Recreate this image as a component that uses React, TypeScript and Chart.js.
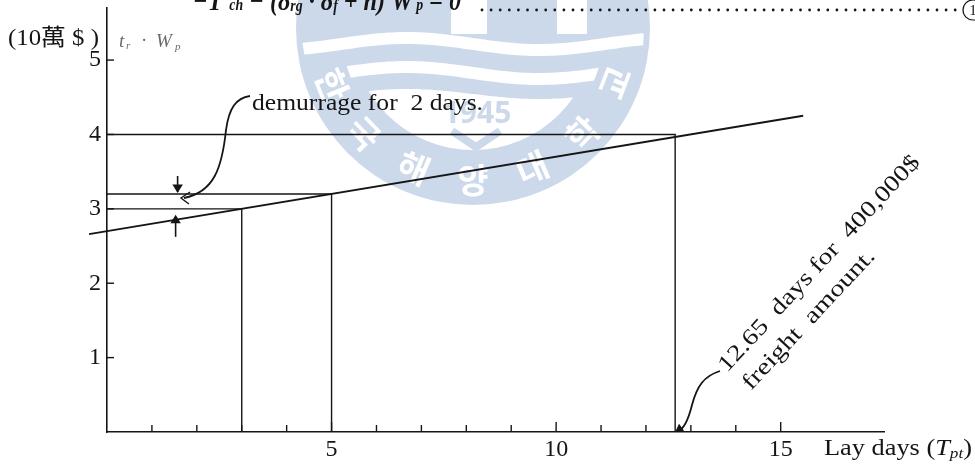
import React, { useEffect, useRef } from "react";
import { Chart, registerables } from "chart.js";
Chart.register(...registerables);

// ---- data ----
const xLabelDays = [5, 10, 15];
const xTickDays = [1, 2, 3, 4, 5, 6, 7, 8, 9, 10, 11, 12, 13, 14, 15];
const yTickValues = [1, 2, 3, 4, 5];
const costDays = [-0.4, 15.5];
const costValues = [2.66, 4.25];
const guideDays = [3, 5, 12.65];
const guideValues = [3.0, 3.2, 4.0];

const SERIF = '"Liberation Serif", "DejaVu Serif", "Noto Sans CJK TC", serif';
const INK = "#151515";

function stretchText(ctx: CanvasRenderingContext2D, text: string, x0: number, y0: number, x1: number, y1: number, font: string) {
  ctx.save();
  ctx.font = font;
  const w = ctx.measureText(text).width;
  const len = Math.hypot(x1 - x0, y1 - y0);
  ctx.translate(x0, y0);
  ctx.rotate(Math.atan2(y1 - y0, x1 - x0));
  ctx.scale(len / w, 1);
  ctx.textAlign = "left";
  ctx.textBaseline = "alphabetic";
  ctx.fillText(text, 0, 0);
  ctx.restore();
}

type Run = { t: string; f: string; dy?: number };
function drawRuns(ctx: CanvasRenderingContext2D, runs: Run[], x0: number, y0: number, x1: number) {
  ctx.save();
  let total = 0;
  for (const r of runs) { ctx.font = r.f; total += ctx.measureText(r.t).width; }
  ctx.translate(x0, y0);
  ctx.scale((x1 - x0) / total, 1);
  let x = 0;
  ctx.textBaseline = "alphabetic";
  ctx.textAlign = "left";
  for (const r of runs) {
    ctx.font = r.f;
    ctx.fillText(r.t, x, r.dy || 0);
    x += ctx.measureText(r.t).width;
  }
  ctx.restore();
}

function drawWatermark(ctx: CanvasRenderingContext2D) {
  const cx = 473, cy = 28, R = 177, rIn = 122;
  const blue = "rgb(204,217,235)";
  ctx.save();
  ctx.fillStyle = blue;
  ctx.beginPath();
  ctx.arc(cx, cy, R, 0, Math.PI * 2);
  ctx.fill();

  // white inner lower part
  ctx.save();
  ctx.beginPath();
  ctx.arc(cx, cy, rIn, 0, Math.PI * 2);
  ctx.clip();
  ctx.fillStyle = "#ffffff";
  ctx.beginPath();
  ctx.moveTo(cx - R, 95);
  for (let x = cx - R; x <= cx + R; x += 4) ctx.lineTo(x, 94 + 5 * Math.sin((x - cx) / 42));
  ctx.lineTo(cx + R, cy + R);
  ctx.lineTo(cx - R, cy + R);
  ctx.closePath();
  ctx.fill();
  ctx.restore();

  // waves and top gaps
  ctx.strokeStyle = "#ffffff";
  ctx.lineWidth = 12;
  const wave = (base: number, amp: number, clipR: number) => {
    ctx.save();
    ctx.beginPath();
    ctx.arc(cx, cy, clipR, 0, Math.PI * 2);
    ctx.clip();
    ctx.beginPath();
    ctx.moveTo(cx - R, base);
    for (let x = cx - R; x <= cx + R; x += 4) ctx.lineTo(x, base + amp * Math.sin((x - cx) / 42));
    ctx.stroke();
    ctx.restore();
  };
  wave(44, 6, R - 6);
  wave(73, 6, 132);
  ctx.save();
  ctx.beginPath();
  ctx.arc(cx, cy, R, 0, Math.PI * 2);
  ctx.clip();
  ctx.fillStyle = "#ffffff";
  ctx.fillRect(451, 0, 36, 34);
  ctx.fillRect(557, 0, 30, 34);
  ctx.restore();

  // 1945 and the emblem mark
  ctx.fillStyle = blue;
  ctx.strokeStyle = blue;
  ctx.font = 'bold 30px "Noto Sans", "DejaVu Sans", sans-serif';
  ctx.textAlign = "center";
  ctx.textBaseline = "middle";
  ctx.fillText("1945", 477, 114);
  ctx.lineWidth = 8;
  ctx.beginPath();
  ctx.moveTo(452, 131); ctx.lineTo(476, 147); ctx.lineTo(500, 131);
  ctx.stroke();

  // Korean letters on the ring
  const chars = ["한", "국", "해", "양", "대", "학", "교"];
  const angles = [158, 136, 113, 90, 67, 44, 21];
  ctx.fillStyle = "#ffffff";
  ctx.font = 'bold 34px "Noto Sans CJK KR", sans-serif';
  chars.forEach((c, i) => {
    const a = (angles[i] * Math.PI) / 180;
    const r = 152;
    ctx.save();
    ctx.translate(cx + r * Math.cos(a), cy + r * Math.sin(a));
    ctx.rotate(a - Math.PI / 2);
    ctx.fillText(c, 0, 0);
    ctx.restore();
  });
  ctx.restore();
}

function arrowHead(ctx: CanvasRenderingContext2D, tx: number, ty: number, ang: number, len = 8, spread = 0.45) {
  ctx.beginPath();
  ctx.moveTo(tx, ty);
  ctx.lineTo(tx - len * Math.cos(ang - spread), ty - len * Math.sin(ang - spread));
  ctx.lineTo(tx - len * Math.cos(ang + spread), ty - len * Math.sin(ang + spread));
  ctx.closePath();
  ctx.fill();
}

const decorPlugin = {
  id: "decor",
  beforeDraw(chart: any) {
    const ctx = chart.ctx as CanvasRenderingContext2D;
    ctx.save();
    ctx.fillStyle = "#ffffff";
    ctx.fillRect(0, 0, chart.width, chart.height);
    ctx.restore();
    drawWatermark(ctx);
  },
  afterDraw(chart: any) {
    const ctx = chart.ctx as CanvasRenderingContext2D;
    const xs = chart.scales.x, ys = chart.scales.y;
    const area = chart.chartArea;
    ctx.save();
    ctx.strokeStyle = INK;
    ctx.fillStyle = INK;
    ctx.lineWidth = 1.4;
    // tick marks (inside)
    for (const v of yTickValues) {
      const py = ys.getPixelForValue(v);
      ctx.beginPath(); ctx.moveTo(area.left, py); ctx.lineTo(area.left + 7, py); ctx.stroke();
    }
    for (const d of xTickDays) {
      const px = xs.getPixelForValue(d);
      const h = d % 5 === 0 ? 10 : 7;
      ctx.beginPath(); ctx.moveTo(px, area.bottom); ctx.lineTo(px, area.bottom - h); ctx.stroke();
    }

    // top equation (cut off by the top edge)
    const bi = (s: number) => `bold italic ${s}px ${SERIF}`;
    drawRuns(ctx, [
      { t: "\u2212T", f: bi(28) }, { t: "  ch", f: bi(16), dy: 0 }, { t: " \u2212 (", f: bi(28) },
      { t: "\u03B4", f: bi(28) }, { t: "rg", f: bi(16), dy: 1 }, { t: " \u00B7 \u03B4", f: bi(28) }, { t: "f", f: bi(16), dy: 1 },
      { t: " + h) W", f: bi(28) }, { t: " p", f: bi(16), dy: 0 }, { t: " = 0", f: bi(28) },
    ], 193, 10, 461);
    for (let x = 482; x < 958; x += 9.1) {
      ctx.beginPath(); ctx.arc(x, 10, 1.4, 0, Math.PI * 2); ctx.fill();
    }
    ctx.lineWidth = 1.2;
    ctx.beginPath(); ctx.arc(973, 10, 10, 0, Math.PI * 2); ctx.stroke();
    ctx.font = `15px ${SERIF}`;
    ctx.textAlign = "center"; ctx.textBaseline = "middle";
    ctx.fillText("1", 973, 11);

    // unit labels
    ctx.textAlign = "left"; ctx.textBaseline = "alphabetic";
    stretchText(ctx, "(10\u842C $ )", 8, 45, 99, 45, `23px ${SERIF}`);
    ctx.save();
    ctx.fillStyle = "#6a6a6a";
    ctx.font = `italic 19px ${SERIF}`;
    ctx.fillText("t", 119, 47);
    ctx.font = `italic 11px ${SERIF}`;
    ctx.fillText("r", 126, 49);
    ctx.font = `19px ${SERIF}`;
    ctx.fillText("\u00B7", 141, 46);
    ctx.font = `italic 19px ${SERIF}`;
    ctx.fillText("W", 156, 47);
    ctx.font = `italic 11px ${SERIF}`;
    ctx.fillText("p", 175, 50);
    ctx.restore();

    // x-axis title
    drawRuns(ctx, [
      { t: "Lay days (", f: `23px ${SERIF}` }, { t: "T", f: `italic 23px ${SERIF}` },
      { t: "pt", f: `italic 15px ${SERIF}`, dy: 3 }, { t: ")", f: `23px ${SERIF}` },
    ], 824, 455, 972);

    // demurrage annotation
    stretchText(ctx, "demurrage for  2 days.", 252, 110, 483, 110, `24px ${SERIF}`);
    ctx.lineWidth = 1.8;
    ctx.beginPath();
    ctx.moveTo(250, 96);
    ctx.bezierCurveTo(236, 98, 229, 108, 226, 130);
    ctx.bezierCurveTo(222, 168, 214, 192, 184, 198);
    ctx.stroke();
    ctx.lineWidth = 1.4;
    ctx.beginPath();
    ctx.moveTo(190, 192); ctx.lineTo(181, 198); ctx.lineTo(189, 204);
    ctx.stroke();

    // two small arrows marking the demurrage gap
    const ax = xs.getPixelForValue(1.55);
    const yHi = ys.getPixelForValue(guideValues[1]);
    const yLo = ys.getPixelForValue(guideValues[0]);
    ctx.lineWidth = 1.6;
    ctx.beginPath(); ctx.moveTo(ax + 1, yHi - 18); ctx.lineTo(ax + 1, yHi - 2); ctx.stroke();
    arrowHead(ctx, ax + 1, yHi - 1, Math.PI / 2, 10, 0.55);
    ctx.beginPath(); ctx.moveTo(ax - 1, yLo + 28); ctx.lineTo(ax - 1, yLo + 8); ctx.stroke();
    arrowHead(ctx, ax - 1, yLo + 6, -Math.PI / 2, 10, 0.55);

    // 12.65 days annotation
    stretchText(ctx, "12.65  days for  400,000$", 727, 373, 921, 163, `23px ${SERIF}`);
    stretchText(ctx, "freight  amount.", 751, 391, 876, 257, `23px ${SERIF}`);
    const fx = xs.getPixelForValue(guideDays[2]);
    ctx.lineWidth = 1.8;
    ctx.beginPath();
    ctx.moveTo(720, 371);
    ctx.bezierCurveTo(704, 376, 697, 386, 692, 405);
    ctx.bezierCurveTo(688, 421, 684, 429, fx + 3, area.bottom - 1);
    ctx.stroke();
    arrowHead(ctx, fx, area.bottom, Math.PI * 0.8, 9, 0.5);
    ctx.restore();
  },
};

export default function App() {
  const ref = useRef<HTMLCanvasElement | null>(null);
  useEffect(() => {
    document.body.style.margin = "0";
    const canvas = ref.current!;
    const datasets: any[] = [
      {
        label: "cost",
        data: costDays.map((d, i) => ({ x: d, y: costValues[i] })),
        borderColor: INK, borderWidth: 2, pointRadius: 0, clip: false, tension: 0,
      },
      ...guideDays.map((d, i) => ({
        label: "guide" + i,
        data: [{ x: 0, y: guideValues[i] }, { x: d, y: guideValues[i] }, { x: d, y: 0 }],
        borderColor: INK, borderWidth: 1.4, pointRadius: 0, clip: false, tension: 0,
      })),
    ];
    const chart = new Chart(canvas, {
      type: "line",
      data: { datasets },
      options: {
        animation: false,
        responsive: false,
        maintainAspectRatio: false,
        devicePixelRatio: 1,
        layout: { padding: { top: 8, right: 91, left: 0, bottom: 0 } },
        plugins: { legend: { display: false }, tooltip: { enabled: false } },
        scales: {
          x: {
            type: "linear", min: 0, max: 17.3,
            afterFit: (s: any) => { s.height = 35; s.paddingLeft = 0; s.paddingRight = 0; },
            grid: { display: false, drawTicks: false },
            border: { display: true, color: INK, width: 1.6 },
            ticks: {
              stepSize: 1, autoSkip: false, maxRotation: 0, padding: 3, color: INK,
              font: { family: SERIF, size: 24 },
              callback: (v: any) => (xLabelDays.includes(v) ? String(v) : ""),
            },
          },
          y: {
            type: "linear", min: 0, max: 5.7,
            afterFit: (s: any) => { s.width = 107; s.paddingTop = 0; s.paddingBottom = 0; },
            grid: { display: false, drawTicks: false },
            border: { display: true, color: INK, width: 1.6 },
            ticks: {
              stepSize: 1, padding: 6, color: INK,
              font: { family: SERIF, size: 24 },
              callback: (v: any) => (yTickValues.includes(v) ? String(v) : ""),
            },
          },
        },
      },
      plugins: [decorPlugin],
    });
    return () => chart.destroy();
  }, []);
  return (
    <div style={{ position: "fixed", left: 0, top: 0, width: 975, height: 467, background: "#fff" }}>
      <canvas ref={ref} width={975} height={467} style={{ display: "block", width: 975, height: 467 }} />
    </div>
  );
}
